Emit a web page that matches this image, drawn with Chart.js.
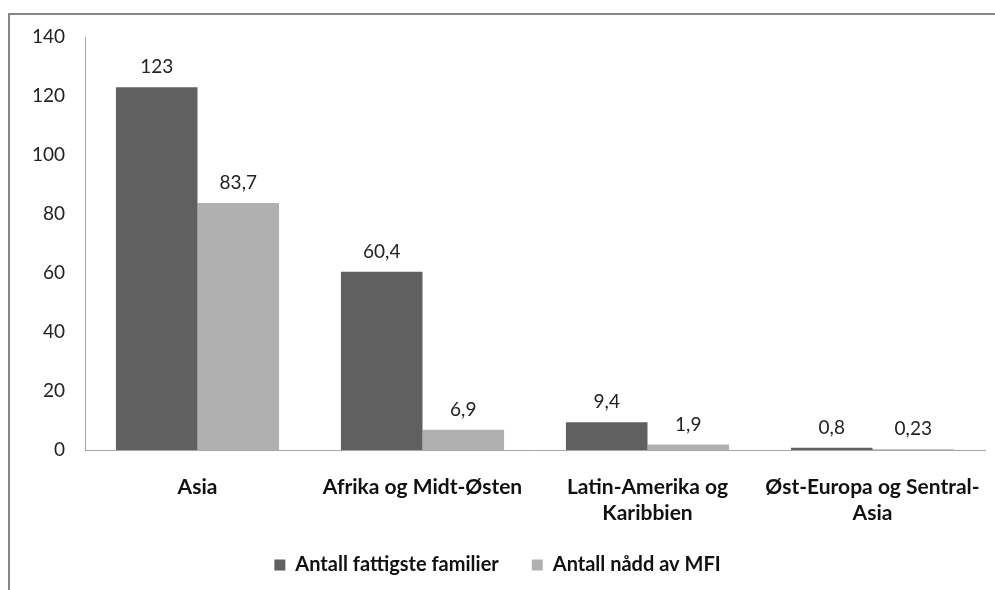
<!DOCTYPE html>
<html>
<head>
<meta charset="utf-8">
<script src="https://cdn.jsdelivr.net/npm/chart.js@4/dist/chart.umd.min.js"></script>
<style>
  html, body { margin: 0; padding: 0; background: #ffffff; }
  body { width: 995px; height: 590px; overflow: hidden; position: relative; }
  #frame {
    position: absolute; left: 8px; top: 13px; right: 0; bottom: 0;
    border-left: 2px solid #868686; border-top: 2px solid #868686;
  }
  #wrap { position: absolute; left: 0; top: 0; width: 985px; height: 575px; }
</style>
</head>
<body>
<div id="frame"><div id="wrap"><canvas id="c"></canvas></div></div>
<script>
// Regions (multi-line labels split as they wrap under the axis)
const categories = [
  'Asia',
  'Afrika og Midt-Østen',
  ['Latin-Amerika og', 'Karibbien'],
  ['Øst-Europa og Sentral-', 'Asia']
];
// Millions of families
const poorestFamilies = [123, 60.4, 9.4, 0.8];
const reachedByMFI = [83.7, 6.9, 1.9, 0.23];
const seriesNames = ['Antall fattigste familier', 'Antall nådd av MFI'];
const yTicks = [0, 20, 40, 60, 80, 100, 120, 140];

const FONT = 'Lato, "Liberation Sans", sans-serif';

// Value labels above each bar, written with a decimal comma
const valueLabels = {
  id: 'valueLabels',
  afterDatasetsDraw(chart) {
    const ctx = chart.ctx;
    ctx.save();
    ctx.font = '19px ' + FONT;
    ctx.fillStyle = '#222222';
    ctx.textAlign = 'center';
    ctx.textBaseline = 'middle';
    chart.data.datasets.forEach((ds, di) => {
      const meta = chart.getDatasetMeta(di);
      meta.data.forEach((bar, i) => {
        const txt = String(ds.data[i]).replace('.', ',');
        ctx.fillText(txt, bar.x, bar.y - 20);
      });
    });
    ctx.restore();
  }
};

new Chart(document.getElementById('c'), {
  type: 'bar',
  data: {
    labels: categories,
    datasets: [
      { label: seriesNames[0], data: poorestFamilies, backgroundColor: '#606060',
        categoryPercentage: 0.725, barPercentage: 1.0 },
      { label: seriesNames[1], data: reachedByMFI, backgroundColor: '#b0b0b0',
        categoryPercentage: 0.725, barPercentage: 1.0 }
    ]
  },
  options: {
    responsive: true,
    maintainAspectRatio: false,
    animation: false,
    devicePixelRatio: 1,
    layout: { padding: { top: 22, right: 10, left: 0, bottom: 5 } },
    plugins: {
      legend: {
        position: 'bottom',
        labels: {
          font: { family: FONT, size: 20, weight: 'bold' },
          color: '#111111',
          boxWidth: 11,
          boxHeight: 11,
          padding: 33
        }
      },
      tooltip: { enabled: false }
    },
    scales: {
      x: {
        afterFit(scale) {
          scale.height = 72;
          scale.paddingLeft = 0;
          scale.paddingRight = 0;
        },
        grid: { display: false, drawTicks: false },
        border: { display: true, color: '#a6a6a6', width: 1 },
        ticks: {
          font: { family: FONT, size: 21, weight: 'bold', lineHeight: 1.2 },
          color: '#111111',
          padding: 25,
          maxRotation: 0,
          autoSkip: false
        }
      },
      y: {
        min: 0,
        max: 140,
        afterFit(scale) {
          scale.width = 75;
          scale.paddingTop = 0;
          scale.paddingBottom = 0;
        },
        afterBuildTicks(scale) { scale.ticks = yTicks.map(v => ({ value: v })); },
        grid: { display: false, drawTicks: false },
        border: { display: true, color: '#a6a6a6', width: 1 },
        ticks: {
          font: { family: FONT, size: 19 },
          color: '#222222',
          padding: 20
        }
      }
    }
  },
  plugins: [valueLabels]
});
</script>
</body>
</html>
